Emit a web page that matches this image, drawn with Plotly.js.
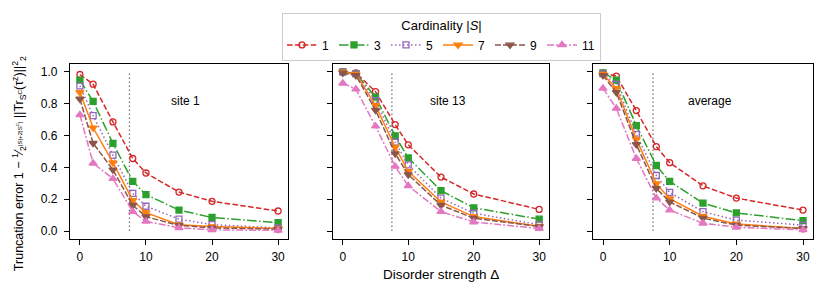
<!DOCTYPE html>
<html>
<head>
<meta charset="utf-8">
<script src="https://cdn.plot.ly/plotly-3.0.1.min.js"></script>
<style>html,body{margin:0;padding:0;background:#fff;}#chart{width:831px;height:295px;}</style>
</head>
<body>
<div id="chart"></div>
<script>
// ---- data ----
const delta = [0, 2, 5, 8, 10, 15, 20, 30];
const cardinalities = ['1', '3', '5', '7', '9', '11'];
const panelLabels = ['site 1', 'site 13', 'average'];
const thresholdDelta = 7.5;
const xTicks = [0, 10, 20, 30];
const yTicks = [0.0, 0.2, 0.4, 0.6, 0.8, 1.0];
const yTickLabels = ['0.0', '0.2', '0.4', '0.6', '0.8', '1.0'];
const xTitle = 'Disorder strength Δ';
const yTitle = 'Truncation error 1 − <sup>1</sup>⁄<sub>2<sup>|S|+2|S<sup>C</sup>|</sup></sub> ||Tr<sub>S<sup>C</sup></sub>(τ<sup>z</sup>)||<sup>2</sup><sub>2</sub>';

// site 1 : one array per cardinality
const site1 = [
  [0.984, 0.923, 0.686, 0.456, 0.365, 0.245, 0.187, 0.126],
  [0.949, 0.815, 0.551, 0.312, 0.229, 0.132, 0.085, 0.053],
  [0.913, 0.726, 0.477, 0.237, 0.156, 0.075, 0.040, 0.020],
  [0.872, 0.649, 0.430, 0.193, 0.116, 0.040, 0.028, 0.016],
  [0.830, 0.552, 0.385, 0.162, 0.090, 0.036, 0.020, 0.012],
  [0.730, 0.426, 0.329, 0.122, 0.061, 0.020, 0.008, 0.004]
];
// site 13
const site13 = [
  [1.000, 0.994, 0.876, 0.669, 0.542, 0.339, 0.233, 0.136],
  [1.000, 0.990, 0.842, 0.598, 0.460, 0.254, 0.146, 0.075],
  [1.000, 0.990, 0.820, 0.558, 0.416, 0.207, 0.112, 0.040],
  [1.000, 0.986, 0.790, 0.527, 0.375, 0.183, 0.091, 0.030],
  [0.994, 0.978, 0.760, 0.487, 0.355, 0.162, 0.081, 0.028],
  [0.929, 0.892, 0.659, 0.406, 0.284, 0.122, 0.057, 0.016]
];
// average over sites
const average = [
  [0.994, 0.974, 0.757, 0.531, 0.430, 0.284, 0.207, 0.132],
  [0.994, 0.949, 0.663, 0.412, 0.312, 0.176, 0.114, 0.065],
  [0.990, 0.923, 0.608, 0.349, 0.243, 0.122, 0.069, 0.037],
  [0.986, 0.897, 0.578, 0.298, 0.203, 0.093, 0.045, 0.016],
  [0.978, 0.872, 0.544, 0.268, 0.183, 0.081, 0.037, 0.016],
  [0.897, 0.771, 0.456, 0.207, 0.132, 0.049, 0.024, 0.008]
];

// ---- styles ----
const colors = ['#d62728', '#2ca02c', '#9467bd', '#ff7f0e', '#8c564b', '#e377c2'];
const symbols = ['circle-open', 'square', 'square-open', 'triangle-down', 'triangle-down', 'triangle-up'];
const markerSizes = [6, 6, 6, 7, 7, 7];
const dashes = ['5.5px,2.4px', '9.6px,2.4px,1.5px,2.4px', '1.5px,2.5px', 'solid', '6px,2px', '7px,2px,2px,2px'];

const panels = [site1, site13, average];
const FONT = 'Liberation Sans, Arial, Helvetica, sans-serif';

const traces = [];
panels.forEach((pdata, p) => {
  const xa = p === 0 ? 'x' : 'x' + (p + 1);
  const ya = p === 0 ? 'y' : 'y' + (p + 1);
  pdata.forEach((vals, i) => {
    traces.push({
      x: delta, y: vals, xaxis: xa, yaxis: ya,
      type: 'scatter', mode: 'lines+markers',
      name: cardinalities[i], legendgroup: cardinalities[i],
      showlegend: p === 0,
      line: {color: colors[i], width: 1.5, dash: dashes[i]},
      marker: {color: colors[i], symbol: symbols[i], size: markerSizes[i],
               line: {color: colors[i], width: 1.3}},
      cliponaxis: false
    });
  });
});

const L = 70, R = 18, W = 831, T = 59, B = 56, H = 295;
const pw = W - L - R, ph = H - T - B;
const doms = [[70, 288], [333, 549], [593, 813]].map(d => [(d[0] - L) / pw, (d[1] - L) / pw]);

function xAxis(p) {
  return {
    domain: doms[p], range: [-1.5, 31.5], tickvals: xTicks, ticktext: xTicks.map(String),
    ticks: 'outside', ticklen: 5, tickwidth: 1, tickcolor: '#000',
    showline: true, mirror: true, linecolor: '#000', linewidth: 1.2,
    showgrid: false, zeroline: false, anchor: p === 0 ? 'y' : 'y' + (p + 1),
    tickfont: {family: FONT, size: 12, color: '#000'}, ticklabelstandoff: 1
  };
}
function yAxis(p) {
  return {
    domain: [0, 1], range: [-0.05, 1.05], tickvals: yTicks, ticktext: yTickLabels,
    showticklabels: p === 0,
    ticks: 'outside', ticklen: 5, tickwidth: 1, tickcolor: '#000',
    showline: true, mirror: true, linecolor: '#000', linewidth: 1.2,
    showgrid: false, zeroline: false, anchor: p === 0 ? 'x' : 'x' + (p + 1),
    tickfont: {family: FONT, size: 12, color: '#000'}, ticklabelstandoff: 4
  };
}

const shapes = [], annotations = [];
panelLabels.forEach((lab, p) => {
  const xr = p === 0 ? 'x' : 'x' + (p + 1);
  const yr = p === 0 ? 'y' : 'y' + (p + 1);
  shapes.push({type: 'line', xref: xr, yref: yr, x0: thresholdDelta, x1: thresholdDelta, y0: 0, y1: 1,
               line: {color: '#777', width: 1.3, dash: '1.5px,2.5px'}, layer: 'below'});
  annotations.push({xref: xr, yref: yr, x: 16, y: 0.82, text: lab, showarrow: false,
                    font: {family: FONT, size: 12, color: '#000'}});
});
// axis titles placed as annotations for precise placement
annotations.push({xref: 'paper', yref: 'paper', x: (doms[1][0] + doms[1][1]) / 2, y: (239 - 276) / ph,
                  xanchor: 'center', yanchor: 'middle', showarrow: false, text: xTitle,
                  font: {family: FONT, size: 13.5, color: '#000'}});
annotations.push({xref: 'paper', yref: 'paper', x: 0, xshift: 19 - L, y: (239 - 162) / ph,
                  xanchor: 'center', yanchor: 'middle', showarrow: false, textangle: -90, text: yTitle,
                  font: {family: FONT, size: 12.5, color: '#000'}});

const layout = {
  width: W, height: H,
  margin: {l: L, r: R, t: T, b: B, pad: 0},
  paper_bgcolor: '#fff', plot_bgcolor: '#fff',
  font: {family: FONT, size: 11, color: '#000'},
  showlegend: true,
  legend: {
    orientation: 'h', x: 0.5, xanchor: 'center', y: 1.02, yanchor: 'bottom',
    bgcolor: '#fff', bordercolor: '#ccc', borderwidth: 1,
    title: {text: 'Cardinality |<i>S</i>|', side: 'top center', font: {family: FONT, size: 13}},
    font: {family: FONT, size: 12}, itemwidth: 30, tracegroupgap: 0
  },
  shapes: shapes, annotations: annotations,
  xaxis: xAxis(0), xaxis2: xAxis(1), xaxis3: xAxis(2),
  yaxis: yAxis(0), yaxis2: yAxis(1), yaxis3: yAxis(2)
};

Plotly.newPlot('chart', traces, layout, {displayModeBar: false, staticPlot: true});
</script>
</body>
</html>
